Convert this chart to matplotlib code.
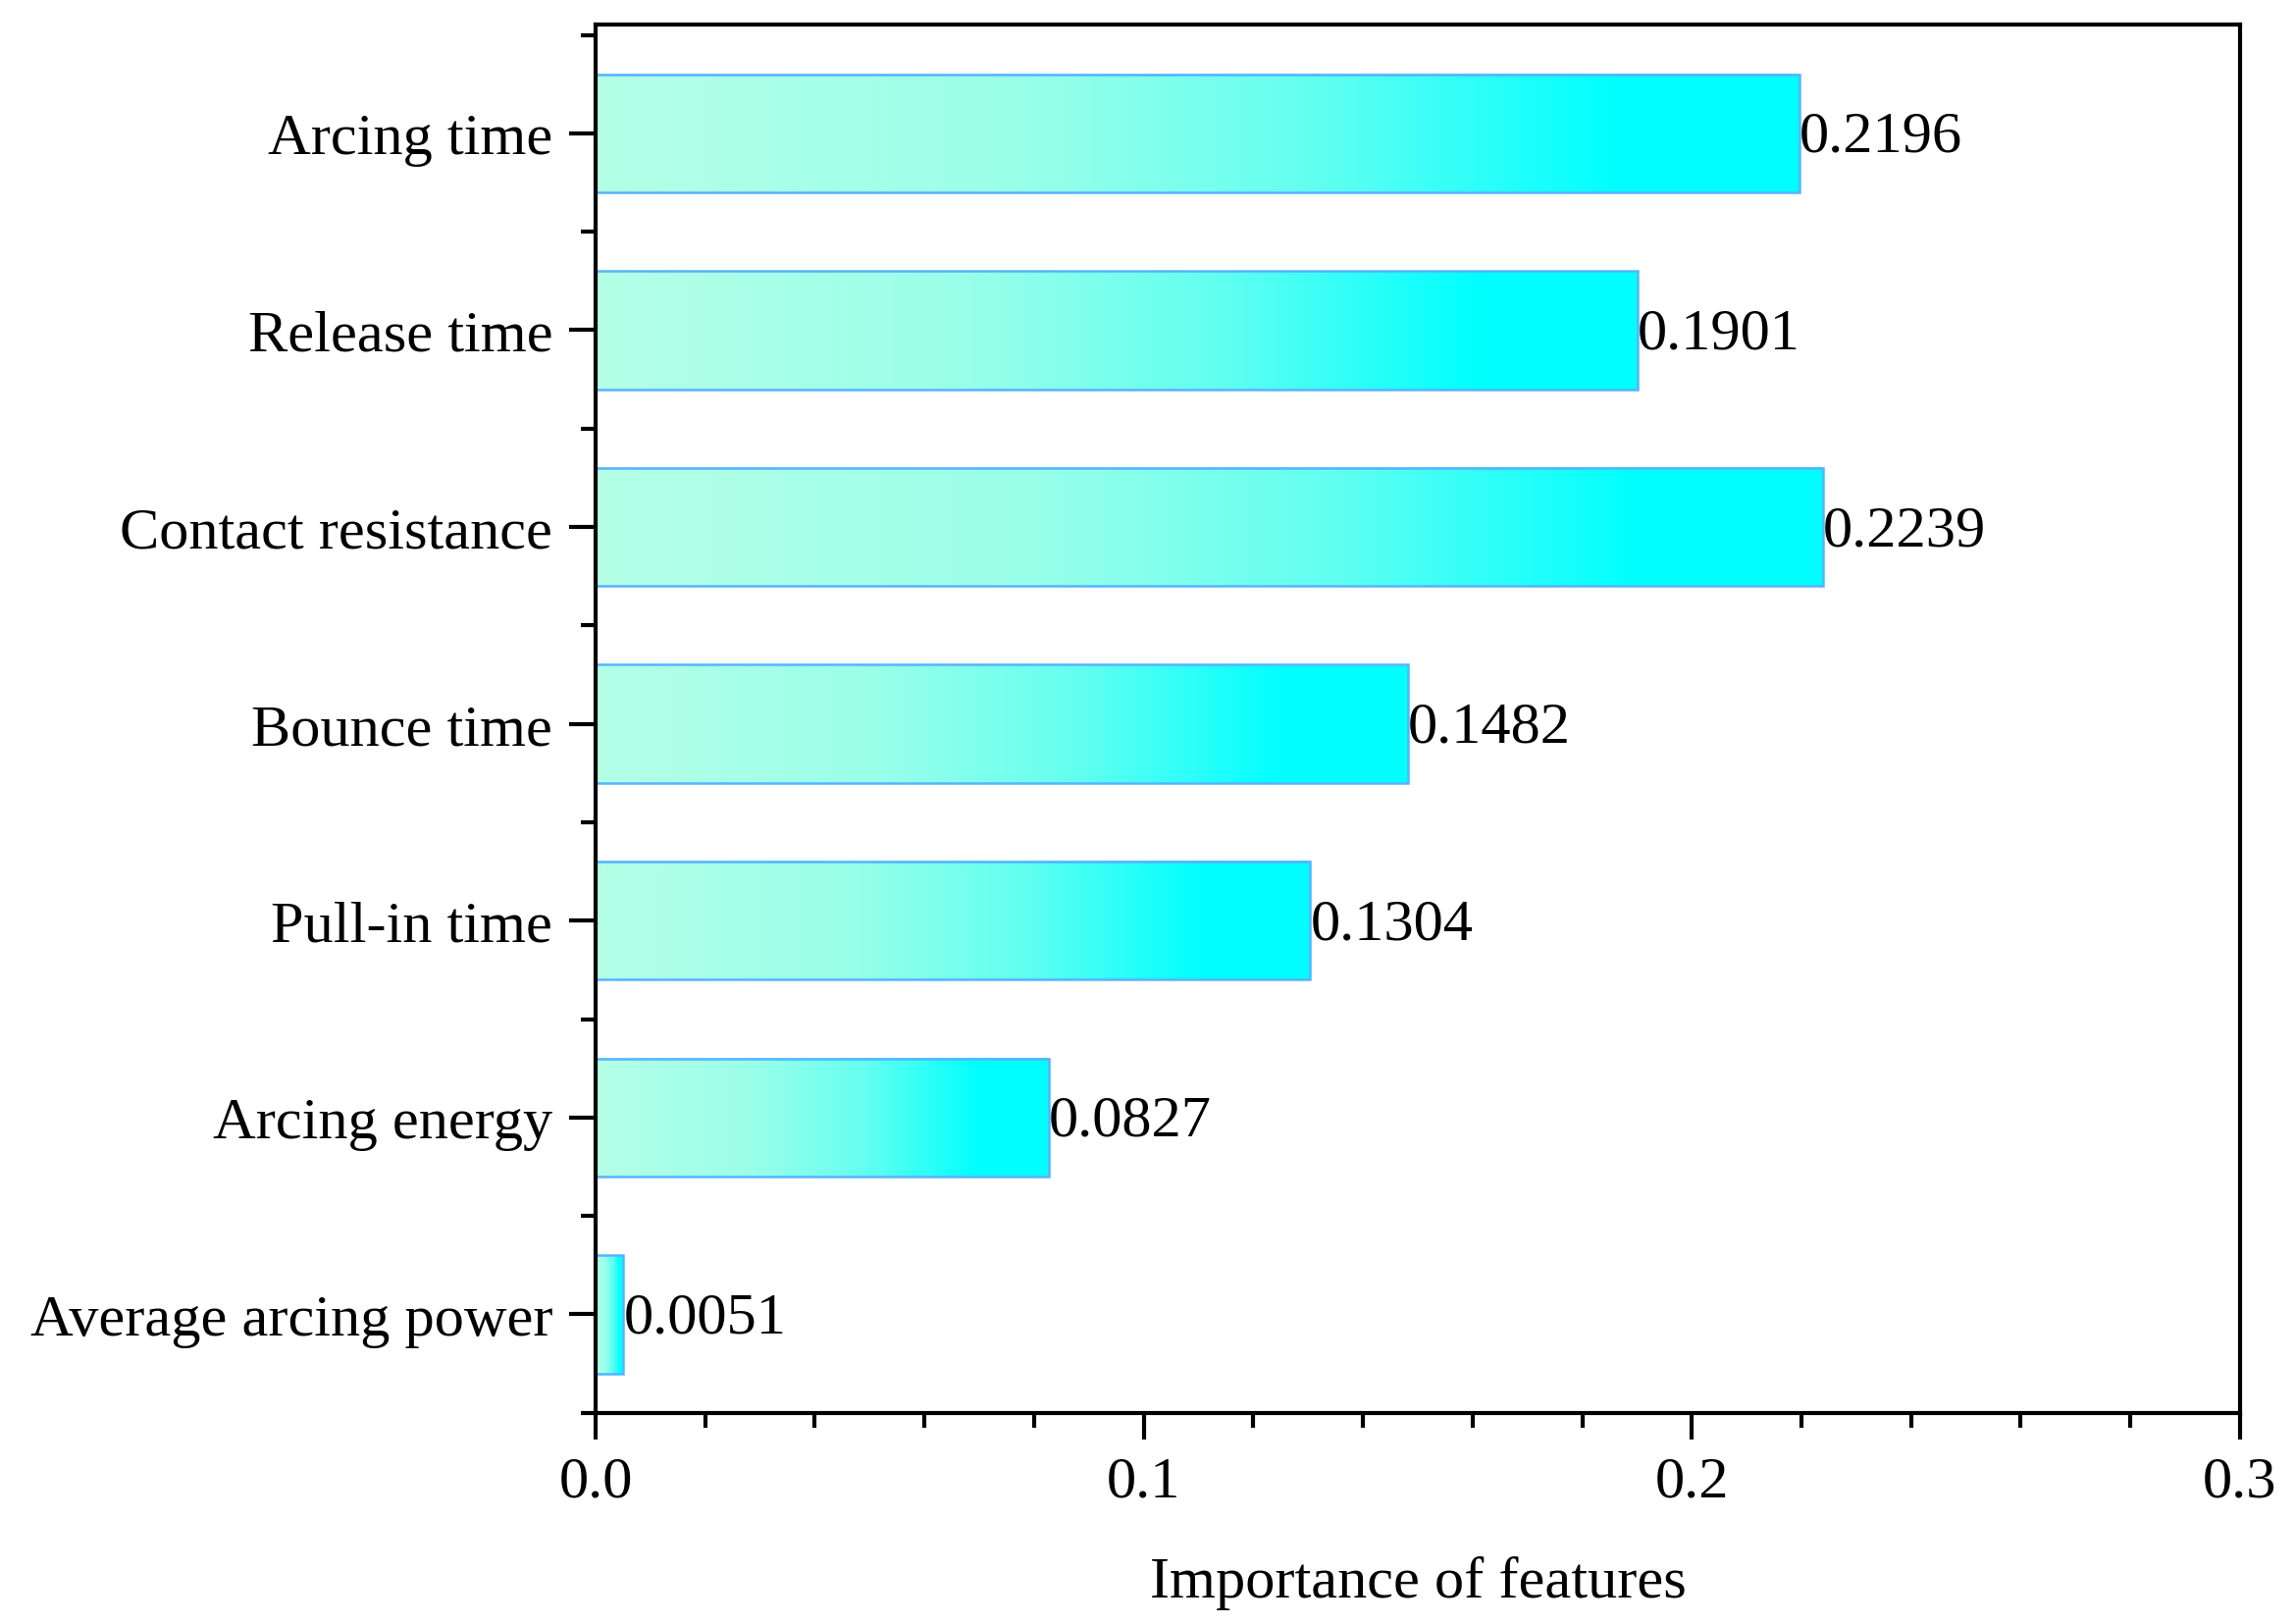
import numpy as np
import matplotlib
matplotlib.use("Agg")
import matplotlib.pyplot as plt
from matplotlib.colors import LinearSegmentedColormap
from matplotlib.ticker import MultipleLocator

# Data (bottom to top)
features = ["Average arcing power", "Arcing energy", "Pull-in time", "Bounce time",
            "Contact resistance", "Release time", "Arcing time"]
importance = [0.0051, 0.0827, 0.1304, 0.1482, 0.2239, 0.1901, 0.2196]
xticks = [0.0, 0.1, 0.2, 0.3]
xtick_labels = ["0.0", "0.1", "0.2", "0.3"]

plt.rcParams["font.family"] = ["Liberation Serif", "DejaVu Serif"]
plt.rcParams["font.size"] = 14.5

fig = plt.figure(figsize=(2339 / 300, 1656 / 300), dpi=300)
ax = fig.add_axes([0.2595, 0.13, 0.7165, 0.854])

cmap = LinearSegmentedColormap.from_list(
    "mint_cyan",
    [(0.0, "#B4FFE6"), (0.35, "#9AFFE9"), (0.6, "#62FFF0"), (0.85, "#00FFFF"), (1.0, "#00FFFF")])
grad = np.linspace(0, 1, 256).reshape(1, -1)

ypos = np.arange(len(features))
h = 0.6
for y, v in zip(ypos, importance):
    ax.imshow(grad, cmap=cmap, aspect="auto", extent=[0, v, y - h / 2, y + h / 2],
              interpolation="bicubic", zorder=1)
ax.barh(ypos, importance, height=h, facecolor="none", edgecolor="#55B4FF",
        linewidth=0.6, zorder=2)

for y, v in zip(ypos, importance):
    ax.text(v, y - 0.02, f"{v:.4f}", ha="left", va="center", fontsize=14.5, zorder=3)

ax.set_xlim(0, 0.3)
ax.set_ylim(-0.5, 6.55)
ax.set_yticks(ypos)
ax.set_yticklabels(features)
ax.yaxis.set_minor_locator(MultipleLocator(1, offset=0.5))
ax.set_xticks(xticks)
ax.set_xticklabels(xtick_labels)
ax.xaxis.set_minor_locator(MultipleLocator(0.02))

ax.tick_params(axis="both", which="major", direction="out", width=1.0, labelsize=14.5)
ax.tick_params(axis="y", which="major", length=6.5, pad=4)
ax.tick_params(axis="x", which="major", length=6.5, pad=4)
ax.tick_params(axis="both", which="minor", direction="out", width=1.0, length=3.5)

for s in ax.spines.values():
    s.set_linewidth(1.0)

ax.set_xlabel("Importance of features", fontsize=14.5)
ax.xaxis.set_label_coords(0.5, -0.103)

fig.savefig("out.png", dpi=300)
